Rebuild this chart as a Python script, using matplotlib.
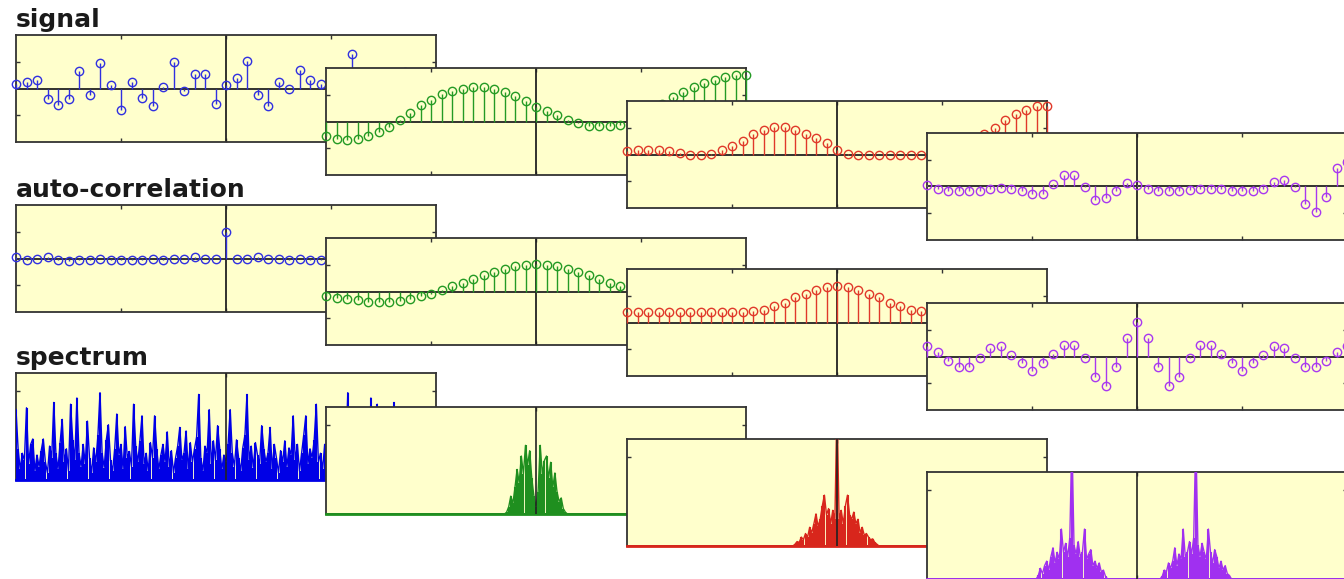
import matplotlib
matplotlib.use("Agg")
import matplotlib.pyplot as plt
import numpy as np

# lag / sample axis for the stem rows, frequency axis for the spectra
lags = np.arange(-20, 21)
freqs = np.arange(-100, 101)

row_titles = ["signal", "auto-correlation", "spectrum"]
colors = ["#3030e0", "#249a24", "#e0392a", "#a838f0"]
spec_colors = ["#0000e6", "#1f8f1f", "#d8261c", "#a030f0"]

# signals (41 samples each)
signal_blue = [0.09, 0.125, 0.16, -0.19, -0.31, -0.19, 0.33, -0.125, 0.47, 0.06,
               -0.41, 0.125, -0.175, -0.33, 0.03, 0.5, -0.05, 0.28, 0.28, -0.29,
               0.06, 0.19, 0.51, -0.125, -0.33, 0.125, 0.0, 0.34, 0.16, 0.09,
               -0.2, 0.15, 0.64, -0.3, 0.1, 0.25, -0.15, 0.3, -0.2, 0.05, 0.12]
signal_green = [-0.28, -0.33, -0.34, -0.33, -0.28, -0.2, -0.1, 0.02, 0.16, 0.3,
                0.4, 0.52, 0.57, 0.61, 0.64, 0.64, 0.61, 0.55, 0.47, 0.39,
                0.28, 0.19, 0.13, 0.03, -0.03, -0.075, -0.09, -0.08, -0.06, -0.02,
                0.08, 0.2, 0.33, 0.46, 0.55, 0.64, 0.72, 0.78, 0.83, 0.86, 0.86]
signal_red = [0.06, 0.09, 0.09, 0.09, 0.06, 0.02, -0.01, -0.01, 0.01, 0.075,
              0.16, 0.26, 0.375, 0.46, 0.51, 0.51, 0.45, 0.39, 0.31, 0.22,
              0.075, 0.01, -0.01, 0.0, 0.0, 0.0, 0.0, 0.0, 0.0, 0.0,
              0.02, 0.06, 0.14, 0.25, 0.39, 0.49, 0.64, 0.75, 0.84, 0.9, 0.9]
signal_purple = [0.02, -0.04, -0.075, -0.09, -0.09, -0.075, -0.04, -0.03, -0.04, -0.075,
                 -0.14, -0.14, 0.05, 0.22, 0.22, -0.01, -0.26, -0.22, -0.075, 0.06,
                 0.02, -0.04, -0.075, -0.075, -0.075, -0.06, -0.04, -0.04, -0.055, -0.075,
                 -0.075, -0.075, -0.04, 0.08, 0.13, -0.01, -0.33, -0.47, -0.2, 0.35, 0.45]

# auto-correlations (41 lags each)
acorr_blue = [0.02, -0.03, 0.0, 0.02, -0.02, -0.04, -0.02, -0.02, -0.01, -0.02,
              -0.02, -0.02, -0.03, -0.01, -0.02, -0.01, 0.0, 0.02, -0.01, 0.0,
              0.49, 0.0, -0.01, 0.02, 0.0, -0.01, -0.02, -0.01, -0.03, -0.02,
              -0.02, -0.02, -0.01, -0.02, -0.02, -0.04, -0.02, 0.02, 0.0, -0.03, 0.02]
acorr_green = [-0.09, -0.12, -0.14, -0.16, -0.19, -0.2, -0.19, -0.17, -0.14, -0.09,
               -0.04, 0.02, 0.1, 0.16, 0.24, 0.3, 0.36, 0.42, 0.47, 0.5,
               0.52, 0.5, 0.47, 0.42, 0.36, 0.3, 0.24, 0.16, 0.1, 0.02,
               -0.04, -0.09, -0.14, -0.17, -0.19, -0.2, -0.19, -0.16, -0.14, -0.12, -0.09]
acorr_red = [0.2, 0.2, 0.2, 0.2, 0.2, 0.2, 0.2, 0.2, 0.2, 0.2,
             0.2, 0.2, 0.21, 0.24, 0.31, 0.36, 0.47, 0.53, 0.61, 0.66,
             0.675, 0.66, 0.61, 0.53, 0.47, 0.36, 0.31, 0.24, 0.21, 0.2,
             0.2, 0.2, 0.2, 0.2, 0.2, 0.2, 0.2, 0.2, 0.2, 0.2, 0.2]
acorr_purple = [0.19, 0.075, -0.09, -0.2, -0.2, -0.03, 0.16, 0.2, 0.03, -0.125,
                -0.28, -0.125, 0.04, 0.22, 0.22, -0.03, -0.39, -0.56, -0.2, 0.34,
                0.64, 0.34, -0.2, -0.56, -0.39, -0.03, 0.22, 0.22, 0.04, -0.125,
                -0.28, -0.125, 0.03, 0.2, 0.16, -0.03, -0.2, -0.2, -0.09, 0.075, 0.19]

# spectra
spec_blue = [0.79, 0.35, 0.12, 0.30, 0.22, 0.81, 0.18, 0.40, 0.46, 0.10,
             0.28, 0.15, 0.33, 0.46, 0.20, 0.08, 0.38, 0.25, 0.87, 0.30,
             0.12, 0.42, 0.68, 0.20, 0.35, 0.10, 0.85, 0.45, 0.22, 0.92,
             0.30, 0.15, 0.40, 0.18, 0.66, 0.25, 0.08, 0.36, 0.20, 0.50,
             0.98, 0.30, 0.14, 0.45, 0.62, 0.22, 0.10, 0.35, 0.74, 0.28,
             0.40, 0.12, 0.60, 0.25, 0.32, 0.15, 0.85, 0.38, 0.20, 0.44,
             0.72, 0.18, 0.30, 0.10, 0.42, 0.25, 0.72, 0.35, 0.12, 0.28,
             0.40, 0.20, 0.54, 0.15, 0.33, 0.08, 0.25, 0.38, 0.59, 0.22,
             0.30, 0.55, 0.12, 0.42, 0.20, 0.35, 0.48, 0.96, 0.25, 0.10,
             0.38, 0.30, 0.79, 0.18, 0.44, 0.22, 0.61, 0.35, 0.12, 0.28,
             0.20, 0.40, 0.79, 0.30, 0.15, 0.45, 0.25, 0.10, 0.36, 0.50,
             0.96, 0.22, 0.38, 0.14, 0.42, 0.28, 0.18, 0.61, 0.35, 0.20,
             0.30, 0.59, 0.12, 0.40, 0.25, 0.08, 0.33, 0.20, 0.44, 0.15,
             0.36, 0.28, 0.72, 0.22, 0.40, 0.10, 0.30, 0.50, 0.72, 0.18,
             0.35, 0.25, 0.45, 0.85, 0.20, 0.30, 0.12, 0.40, 0.28, 0.55,
             0.15, 0.38, 0.22, 0.62, 0.30, 0.10, 0.42, 0.25, 0.98, 0.33,
             0.18, 0.40, 0.26, 0.12, 0.50, 0.30, 0.20, 0.45, 0.15, 0.92,
             0.35, 0.22, 0.85, 0.28, 0.40, 0.12, 0.30, 0.58, 0.20, 0.36,
             0.87, 0.25, 0.15, 0.42, 0.30, 0.10, 0.38, 0.22, 0.65, 0.18,
             0.33, 0.45, 0.12, 0.28, 0.40, 0.20, 0.55, 0.30, 0.15, 0.35, 0.70]

# non-zero parts of the other spectra: (first frequency, values)
green_band = (-14, [0.02, 0.08, 0.20, 0.12, 0.30, 0.50, 0.35, 0.65, 0.45, 0.77,
                    0.55, 0.71, 0.40, 0.20, 0.08, 0.25, 0.77, 0.45, 0.60, 0.65,
                    0.40, 0.58, 0.30, 0.46, 0.25, 0.14, 0.18, 0.06, 0.02])
red_band = (-20, [0.02, 0.05, 0.04, 0.10, 0.07, 0.14, 0.10, 0.21, 0.15, 0.25,
                  0.36, 0.22, 0.30, 0.45, 0.57, 0.35, 0.42, 0.25, 0.40, 0.30,
                  1.60, 0.30, 0.40, 0.25, 0.45, 0.57, 0.35, 0.30, 0.38, 0.25,
                  0.30, 0.15, 0.21, 0.12, 0.14, 0.10, 0.07, 0.08, 0.04, 0.02, 0.0])
purple_band_lo = (-47, [0.04, 0.12, 0.06, 0.15, 0.20, 0.10, 0.25, 0.35, 0.18, 0.30,
                        0.22, 0.56, 0.30, 0.40, 0.25, 0.46, 1.60, 0.38, 0.28, 0.42,
                        0.25, 0.30, 0.56, 0.22, 0.28, 0.33, 0.15, 0.20, 0.12, 0.18,
                        0.08, 0.10, 0.03])
purple_band_hi = (12, [0.03, 0.10, 0.08, 0.18, 0.12, 0.20, 0.35, 0.15, 0.28, 0.22,
                       0.56, 0.25, 0.30, 0.42, 0.28, 0.46, 1.60, 0.38, 0.25, 0.40,
                       0.30, 0.22, 0.56, 0.30, 0.18, 0.33, 0.25, 0.12, 0.20, 0.10,
                       0.15, 0.06, 0.04])


def band_spectrum(*bands):
    spec = np.zeros(len(freqs))
    for start, vals in bands:
        i0 = start - freqs[0]
        spec[i0:i0 + len(vals)] = vals
    return spec


signals = [signal_blue, signal_green, signal_red, signal_purple]
acorrs = [acorr_blue, acorr_green, acorr_red, acorr_purple]
spectra = [np.array(spec_blue), band_spectrum(green_band), band_spectrum(red_band),
           band_spectrum(purple_band_lo, purple_band_hi)]

W, H = 1344, 579
fig = plt.figure(figsize=(W / 100, H / 100), dpi=100)

col_left = [16, 326, 627, 927]
row_top = [[35, 205, 373], [68, 238, 407], [101, 269, 439], [133, 303, 472]]
ax_w, ax_h = 420, 107
edge = "#333333"


def style_axes(ax):
    ax.set_facecolor("#ffffcc")
    for s in ax.spines.values():
        s.set_color(edge)
        s.set_linewidth(1.3)
    ax.tick_params(direction="in", length=3, width=1, colors=edge,
                   top=True, right=True, labelbottom=False, labelleft=False)


def stem_panel(ax, y, color):
    ml, sl, bl = ax.stem(lags, y, linefmt="-", markerfmt="o", basefmt=" ")
    plt.setp(ml, markerfacecolor="none", markeredgecolor=color, markersize=6,
             markeredgewidth=1, clip_on=False, zorder=4)
    plt.setp(sl, color=color, linewidth=1, clip_on=False, zorder=3)
    ax.axhline(0, color="#222222", lw=1.3, zorder=2)
    ax.axvline(0, color="#222222", lw=1.3, zorder=2)
    ax.set_xlim(-20, 20)
    ax.set_ylim(-1, 1)
    ax.set_xticks([-10, 0, 10])
    ax.set_yticks([-0.5, 0.5])


def spectrum_panel(ax, spec, color):
    ax.vlines(freqs, 0, spec, color=color, lw=1.5, zorder=3)
    ax.plot(freqs, spec, color=color, lw=1.0, zorder=3)
    ax.axhline(0, color=color, lw=2, zorder=3, clip_on=False)
    ax.axvline(0, color="#222222", lw=1.2, zorder=3.5)
    ax.set_xlim(-100, 100)
    ax.set_ylim(0, 1.2)
    ax.set_xticks([0])
    ax.set_yticks([1.0])


for c in range(4):
    for r in range(3):
        top = row_top[c][r]
        ax = fig.add_axes([col_left[c] / W, 1 - (top + ax_h) / H, ax_w / W, ax_h / H])
        style_axes(ax)
        if r == 0:
            stem_panel(ax, signals[c], colors[c])
        elif r == 1:
            stem_panel(ax, acorrs[c], colors[c])
        else:
            spectrum_panel(ax, spectra[c], spec_colors[c])

title_baseline = [27, 197, 365]
for r, t in enumerate(row_titles):
    fig.text(16 / W, 1 - title_baseline[r] / H, t, fontsize=18, fontweight="bold",
             color="#1a1a1a", va="baseline", ha="left")

fig.savefig("out.png", dpi=100)
